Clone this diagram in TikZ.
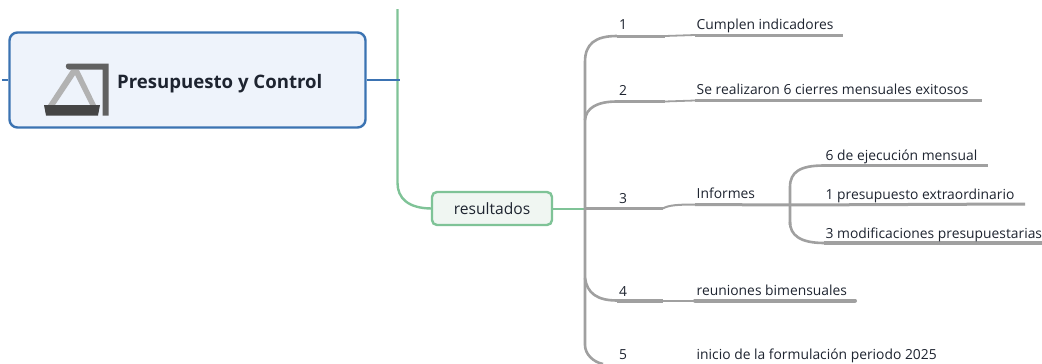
\documentclass[tikz,border=0pt]{standalone}
\usepackage{fontspec}
\setmainfont{Open Sans}
\definecolor{blueb}{HTML}{3B73B2}
\definecolor{bluef}{HTML}{EEF3FB}
\definecolor{greenb}{HTML}{7FC397}
\definecolor{greenf}{HTML}{F0F6F2}
\definecolor{greyl}{HTML}{A0A0A0}
\definecolor{txt}{HTML}{1E2430}
\tikzset{
 x=1pt,y=-1pt,
 lbl/.style={inner sep=0pt,anchor=base west,text=txt,font=\fontsize{13.85}{15}\selectfont},
 num/.style={inner sep=0pt,anchor=base,text=txt,font=\fontsize{13.85}{15}\selectfont},
 thin grey/.style={draw=greyl,line width=2.6pt},
 thick grey/.style={draw=greyl,line width=3pt},
 blue link/.style={draw=blueb,line width=2pt},
 green link/.style={draw=greenb,line width=2.4pt},
}
\begin{document}
\begin{tikzpicture}
\useasboundingbox (0,0) rectangle (1042,364);
% connector anchors
\coordinate (gtop) at (397.5,9);
\coordinate (stubL) at (2,80);
\coordinate (stubR) at (400,80);
\coordinate (hub) at (585,208.5);
\coordinate (sub) at (790,205);
% green and blue links
\draw[green link] (gtop) -- (397.5,183) .. controls (397.5,198) and (408,208.5) .. (432,208.5);
\node[draw=blueb,line width=2.4pt,fill=bluef,rounded corners=8pt,minimum width=356pt,minimum height=95pt,inner sep=0pt] (main) at (187.5,80) {};
\draw[blue link] (stubL) -- (main.west);
\draw[blue link] (main.east) -- (stubR);
\node[draw=greenb,line width=2.4pt,fill=greenf,rounded corners=5pt,minimum width=120pt,minimum height=33pt,inner sep=0pt,text=txt,font=\fontsize{15.6}{17}\selectfont] (res) at (492,208.5) {resultados};
\draw[green link,line width=2pt] (res.east) -- (hub);
% icon
\fill[black!30!white] (48,105) -- (71,70) -- (79,70) -- (96,105) -- (90,105) -- (75,75) -- (55,105) -- cycle;
\fill[black!62!white] (68,63.5) -- (108.5,63.5) -- (108.5,115.5) -- (102.5,115.5) -- (102.5,69.5) -- (69,69.5) .. controls (65,69.5) and (65,63.5) .. (68,63.5) -- cycle;
\fill[black!73!white] (44,105) -- (100,105) -- (98,115.5) -- (46,115.5) -- cycle;
\node[inner sep=0pt,anchor=base west,text=txt,font=\fontsize{18.6}{21}\selectfont\bfseries] (title) at (117,88.5) {Presupuesto y Control};
% grey tree
\coordinate (b1) at (665,36);
\coordinate (b2) at (665,101.5);
\coordinate (b3) at (663,208.5);
\coordinate (b4) at (663,300.5);
\coordinate (b5) at (603,364);
\draw[thin grey] (585,345) -- (585,62) .. controls (585,44) and (595,36) .. (617,36);
\draw[thin grey] (585,120) .. controls (586,108) and (597,101.5) .. (617,101.5);
\draw[thin grey] (585,278) .. controls (587,293) and (597,300.5) .. (617,300.5);
\draw[thin grey] (585,345) .. controls (585,354) and (593,362) .. (b5);
\draw[thin grey] (hub) -- (b3);
\draw[thick grey] (617,36) -- (b1);
\draw[thick grey] (617,101.5) -- (b2);
\draw[thick grey] (617,208.5) -- (b3);
\draw[draw=greyl,line width=4pt] (617,300.5) -- (b4);
\draw[draw=greyl,line width=1.8pt] (b1) -- (695,35);
\draw[draw=greyl,line width=1.8pt] (b2) -- (695,100.5);
\draw[draw=greyl,line width=2pt] (b3) .. controls (668,205) and (680,204.5) .. (695,204.5);
\draw[draw=greyl,line width=2pt] (b4) -- (695,300.5);
\coordinate (e1) at (843,35.5);
\coordinate (e2) at (982,100);
\coordinate (e4) at (855,300.5);
\draw[thick grey] (695,35.5) -- (e1);
\draw[thick grey] (695,100) -- (e2);
\draw[thick grey] (695,204.5) -- (sub);
\draw[draw=greyl,line width=4pt,line cap=round] (695,300.5) -- (e4);
% sub tree
\coordinate (s1) at (988,165.5);
\coordinate (s2) at (1025,204);
\coordinate (s3) at (1042,243);
\draw[thin grey] (790,225) -- (790,187) .. controls (790,172) and (800,165.5) .. (824,165.5);
\draw[thin grey] (790,222) .. controls (790,235) and (800,243) .. (824,243);
\draw[thick grey] (824,165.5) -- (s1);
\draw[thick grey] (sub) -- (s2);
\draw[draw=greyl,line width=3.4pt] (824,243) -- (s3);
% labels
\node[num] (n1) at (623,30) {1};
\node[num] (n2) at (623,95) {2};
\node[num] (n3) at (623,203) {3};
\node[num] (n4) at (623,296) {4};
\node[num] (n5) at (623,359) {5};
\node[lbl] (t1) at (696.5,30) {Cumplen indicadores};
\node[lbl] (t2) at (696.5,94) {Se realizaron 6 cierres mensuales exitosos};
\node[lbl] (t3) at (696.5,198) {Informes};
\node[lbl] (t4) at (696.5,295) {reuniones bimensuales};
\node[lbl] (t5) at (696.5,359) {inicio de la formulación periodo 2025};
\node[lbl] (s1t) at (825.5,160) {6 de ejecución mensual};
\node[lbl] (s2t) at (825.5,199) {1 presupuesto extraordinario};
\node[lbl] (s3t) at (825.5,238) {3 modificaciones presupuestarias};
\end{tikzpicture}
\end{document}
